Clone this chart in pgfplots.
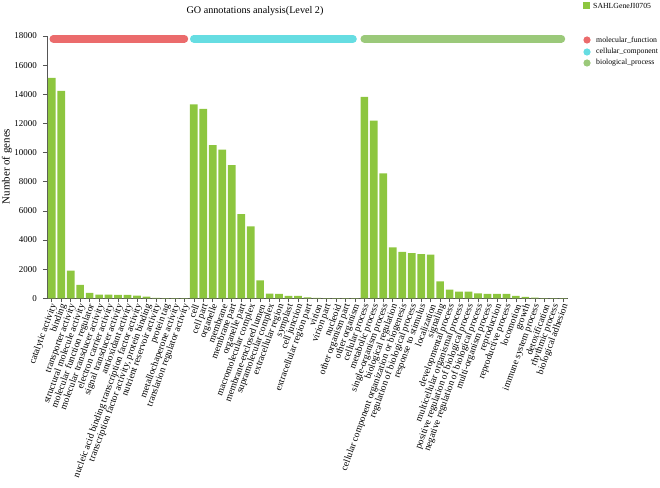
\documentclass[border=0pt]{standalone}
\usepackage{pgfplots}
\pgfplotsset{compat=1.18}
\usepackage{pgfplotstable}
\usepackage{fontspec}
\setmainfont{Liberation Serif}
\definecolor{barg}{HTML}{8DC63F}
\definecolor{bandr}{HTML}{EB6B6C}
\definecolor{bandc}{HTML}{66DDE2}
\definecolor{bandg}{HTML}{9BC97A}
\definecolor{axgray}{HTML}{555555}
\pgfplotstableread{
x y
0 15120
1 14230
2 1900
3 920
4 370
5 260
6 250
7 235
8 230
9 185
10 115
11 25
12 10
13 6
14 4
15 13300
16 13000
17 10510
18 10210
19 9140
20 5780
21 4940
22 1235
23 320
24 300
25 170
26 160
27 70
28 25
29 20
30 10
31 6
32 5
33 13820
34 12200
35 8570
36 3490
37 3190
38 3100
39 3030
40 2990
41 1170
42 600
43 460
44 460
45 345
46 300
47 300
48 300
49 160
50 92
51 46
52 20
53 10
54 5
}\gotable
\begin{document}
\begin{tikzpicture}
\begin{axis}[
  scale only axis,
  width=521bp, height=262.3bp,
  xmin=-0.5, xmax=54.5,
  ymin=0, ymax=18000,
  clip=false,
  axis x line*=bottom, axis y line*=left,
  axis line style={axgray, line width=0.6bp},
  every tick/.style={axgray, line width=0.6bp},
  tick align=outside,
  major tick length=4bp,
  xtick={0,...,54},
  ytick={0,2000,...,18000},
  scaled y ticks=false,
  /pgf/number format/1000 sep={},
  /pgf/number format/assume math mode=true,
  yticklabel style={font=\fontsize{9}{10}\selectfont, inner sep=0pt, xshift=-6bp},
  xticklabel style={font=\fontsize{9.6}{10}\selectfont, rotate=70, anchor=east, inner sep=1bp, yshift=-3bp},
  xticklabels={
    catalytic activity, binding, transporter activity, structural molecule activity,
    molecular function regulator, molecular transducer activity, electron carrier activity,
    signal transducer activity, antioxidant activity,
    nucleic acid binding transcription factor activity,
    {transcription factor activity, protein binding},
    nutrient reservoir activity, protein tag, metallochaperone activity, translation regulator activity,
    cell, cell part, organelle, membrane, membrane part, organelle part, macromolecular complex,
    membrane-enclosed lumen, supramolecular complex, extracellular region, symplast, cell junction,
    extracellular region part, virion, virion part, nucleoid, other organism part, other organism,
    cellular process, metabolic process, single-organism process, biological regulation,
    cellular component organization or biogenesis, regulation of biological process,
    response to stimulus, localization, signaling, developmental process,
    multicellular organismal process, positive regulation of biological process,
    negative regulation of biological process, multi-organism process, reproduction,
    reproductive process, locomotion, growth, immune system process, detoxification,
    rhythmic process, biological adhesion},
  ylabel={Number of genes},
  ylabel style={at={(axis description cs:-0.0768,0.5025)}, anchor=center, font=\fontsize{11}{12}\selectfont},
  title={GO annotations analysis(Level 2)},
  title style={at={(axis description cs:0.3992,1)}, anchor=center, yshift=19bp, font=\fontsize{10.2}{12}\selectfont},
]
\addplot[ybar, bar width=0.81, fill=barg, draw=none] table[x=x,y=y]{\gotable};
\addplot[bandr, line width=7.7bp, line cap=round] coordinates {(0.17,17810) (14.0,17810)};
\addplot[bandc, line width=7.7bp, line cap=round] coordinates {(15.0,17810) (31.8,17810)};
\addplot[bandg, line width=7.7bp, line cap=round] coordinates {(33.0,17810) (53.8,17810)};
\end{axis}
% legend
\fill[barg] (536bp,289.3bp) rectangle (543bp,296.3bp);
\node[anchor=west, inner sep=0pt, font=\fontsize{7.8}{9}\selectfont] at (546bp,292.8bp) {SAHLGeneJI0705};
\fill[bandr] (540bp,258.3bp) circle (3.6bp);
\node[anchor=west, inner sep=0pt, font=\fontsize{7.8}{9}\selectfont] at (549bp,258.3bp) {molecular\_function};
\fill[bandc] (540bp,246.3bp) circle (3.6bp);
\node[anchor=west, inner sep=0pt, font=\fontsize{7.8}{9}\selectfont] at (549bp,246.3bp) {cellular\_component};
\fill[bandg] (540bp,235.3bp) circle (3.6bp);
\node[anchor=west, inner sep=0pt, font=\fontsize{7.8}{9}\selectfont] at (549bp,235.3bp) {biological\_process};
\pgfresetboundingbox
\path[use as bounding box] (-47bp,-189.7bp) rectangle (613bp,298.3bp);
\end{tikzpicture}
\end{document}
